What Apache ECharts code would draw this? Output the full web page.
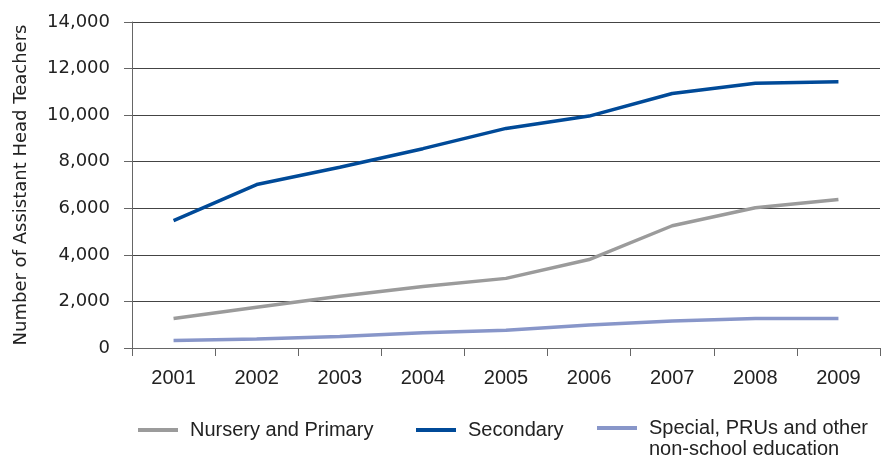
<!DOCTYPE html>
<html>
<head>
<meta charset="utf-8">
<script src="https://cdn.jsdelivr.net/npm/echarts@6/dist/echarts.min.js"></script>
<style>
  html, body { margin: 0; padding: 0; background: #fff; }
  #chart { width: 881px; height: 463px; }
</style>
</head>
<body>
<div id="chart"></div>
<script>
const years = ['2001', '2002', '2003', '2004', '2005', '2006', '2007', '2008', '2009'];
const nurseryPrimary = [1270, 1750, 2220, 2640, 2990, 3800, 5250, 6020, 6380];
const secondary = [5470, 7020, 7760, 8560, 9430, 9960, 10930, 11370, 11430];
const specialOther = [320, 390, 490, 660, 760, 990, 1160, 1270, 1270];

const yTicks = { min: 0, max: 14000, interval: 2000 };

const myChart = echarts.init(document.getElementById('chart'));

const legendFont = {
  fontFamily: 'Liberation Sans, Arial, sans-serif',
  fontSize: 20,
  lineHeight: 23,
  color: '#222'
};

const legendBase = {
  orient: 'horizontal',
  padding: 0,
  icon: 'rect',
  itemWidth: 40,
  itemHeight: 4,
  selectedMode: false,
  textStyle: Object.assign({ padding: [0, 0, 0, 7] }, legendFont)
};

const option = {
  animation: false,
  backgroundColor: '#fff',
  grid: { left: 132, right: 1, top: 22, bottom: 115, containLabel: false },
  legend: [
    Object.assign({}, legendBase, { left: 138, top: 418.5, data: ['Nursery and Primary'] }),
    Object.assign({}, legendBase, { left: 416, top: 418.5, data: ['Secondary'] }),
    Object.assign({}, legendBase, {
      left: 597, top: 416.5, data: ['Special, PRUs and other non-school education'],
      formatter: () => 'Special, PRUs and other'
    })
  ],
  // second line of the third legend entry
  graphic: [{
    type: 'text',
    left: 649,
    top: 439,
    style: Object.assign({ text: 'non-school education', fill: '#222' }, {
      font: '20px "Liberation Sans", Arial, sans-serif'
    })
  }],
  xAxis: {
    type: 'category',
    data: years,
    boundaryGap: true,
    axisLine: { lineStyle: { color: '#666', width: 1 } },
    axisTick: { show: true, length: 8, lineStyle: { color: '#666' } },
    axisLabel: {
      margin: 20,
      fontFamily: 'Liberation Sans, Arial, sans-serif',
      fontSize: 20,
      color: '#222'
    }
  },
  yAxis: {
    type: 'value',
    min: yTicks.min,
    max: yTicks.max,
    interval: yTicks.interval,
    name: 'Number of Assistant Head Teachers',
    nameLocation: 'middle',
    nameGap: 102,
    nameTextStyle: { fontFamily: 'DejaVu Sans, sans-serif', fontSize: 18, color: '#222' },
    axisLine: { show: true, lineStyle: { color: '#666', width: 1 } },
    axisTick: { show: true, length: 8, lineStyle: { color: '#666' } },
    axisLabel: {
      margin: 22,
      fontFamily: 'DejaVu Sans, sans-serif',
      fontSize: 18,
      color: '#222',
      formatter: v => v.toLocaleString('en-US')
    },
    splitLine: { show: true, lineStyle: { color: '#444', width: 1 } }
  },
  series: [
    {
      name: 'Nursery and Primary',
      type: 'line',
      data: nurseryPrimary,
      showSymbol: false,
      lineStyle: { color: '#9b9b9b', width: 3.5 },
      itemStyle: { color: '#9b9b9b' }
    },
    {
      name: 'Secondary',
      type: 'line',
      data: secondary,
      showSymbol: false,
      lineStyle: { color: '#004a98', width: 3.5 },
      itemStyle: { color: '#004a98' }
    },
    {
      name: 'Special, PRUs and other non-school education',
      type: 'line',
      data: specialOther,
      showSymbol: false,
      lineStyle: { color: '#8896c9', width: 3.5 },
      itemStyle: { color: '#8896c9' }
    }
  ]
};

myChart.setOption(option);
</script>
</body>
</html>
